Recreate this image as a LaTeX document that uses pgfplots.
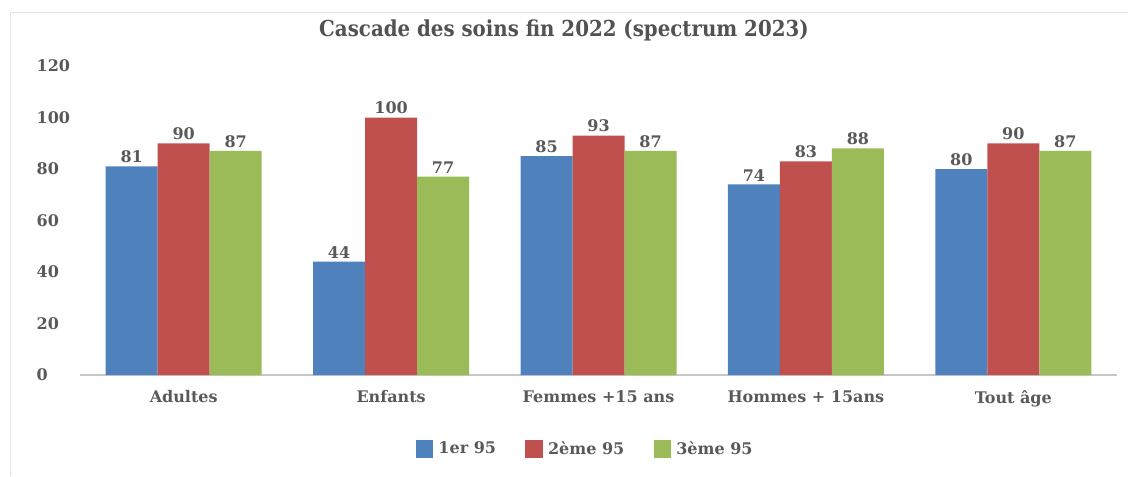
\documentclass[border=0pt]{standalone}
\usepackage{pgfplots}
\pgfplotsset{compat=1.18}
\usepackage{fontspec}
\setmainfont{DejaVu Serif}
\newfontfamily\titlefont{DejaVu Serif Condensed}
\definecolor{cblue}{HTML}{4F81BD}
\definecolor{cred}{HTML}{C0504D}
\definecolor{cgreen}{HTML}{9BBB59}
\definecolor{txt}{HTML}{595959}
\begin{document}
\begin{tikzpicture}[x=1pt,y=1pt]
\path[use as bounding box] (-60,-75.75) rectangle (786,281.25);
\draw[black!10] (-52.5,-75.75) -- (-52.5,272.25) -- (786,272.25);
\node[font=\titlefont\bfseries\fontsize{16.5}{19}\selectfont, text=black!68] at (363,258.75) {Cascade des soins fin 2022 (spectrum 2023)};
\begin{axis}[
  at={(0,0)}, anchor=south west,
  scale only axis, width=777.75pt, height=231.75pt,
  ybar=0pt, bar width=39pt,
  xmin=-0.5, xmax=4.5, ymin=0, ymax=120,
  ytick={0,20,...,120},
  xtick={0,1,2,3,4},
  xticklabels={Adultes,Enfants,Femmes +15 ans,Hommes + 15ans,Tout âge},
  axis x line*=bottom, axis y line*=left,
  y axis line style={draw=none},
  x axis line style={draw=black!22, line width=0.8pt},
  tick style={draw=none},
  ticklabel style={font=\bfseries\fontsize{12}{14}\selectfont, text=txt},
  yticklabel style={anchor=west, xshift=-36pt},
  xticklabel style={yshift=-4pt},
  /pgf/number format/assume math mode=true,
  nodes near coords,
  every node near coord/.append style={font=\bfseries\fontsize{12}{14}\selectfont, text=txt, yshift=-1pt},
  legend style={at={(0.4875,-0.2395)}, anchor=center, legend columns=3, draw=none,
    font=\bfseries\fontsize{12}{14}\selectfont, text=txt,
    /tikz/every even column/.append style={column sep=20pt}},
  legend image code/.code={\fill[#1, draw=none] (0pt,-6.5pt) rectangle (13pt,6.5pt); \path (15pt,0pt);},
]
\addplot[fill=cblue, draw=none] coordinates {(0,81) (1,44) (2,85) (3,74) (4,80)};
\addplot[fill=cred, draw=none] coordinates {(0,90) (1,100) (2,93) (3,83) (4,90)};
\addplot[fill=cgreen, draw=none] coordinates {(0,87) (1,77) (2,87) (3,88) (4,87)};
\legend{1er 95, 2ème 95, 3ème 95}
\end{axis}
\end{tikzpicture}
\end{document}
